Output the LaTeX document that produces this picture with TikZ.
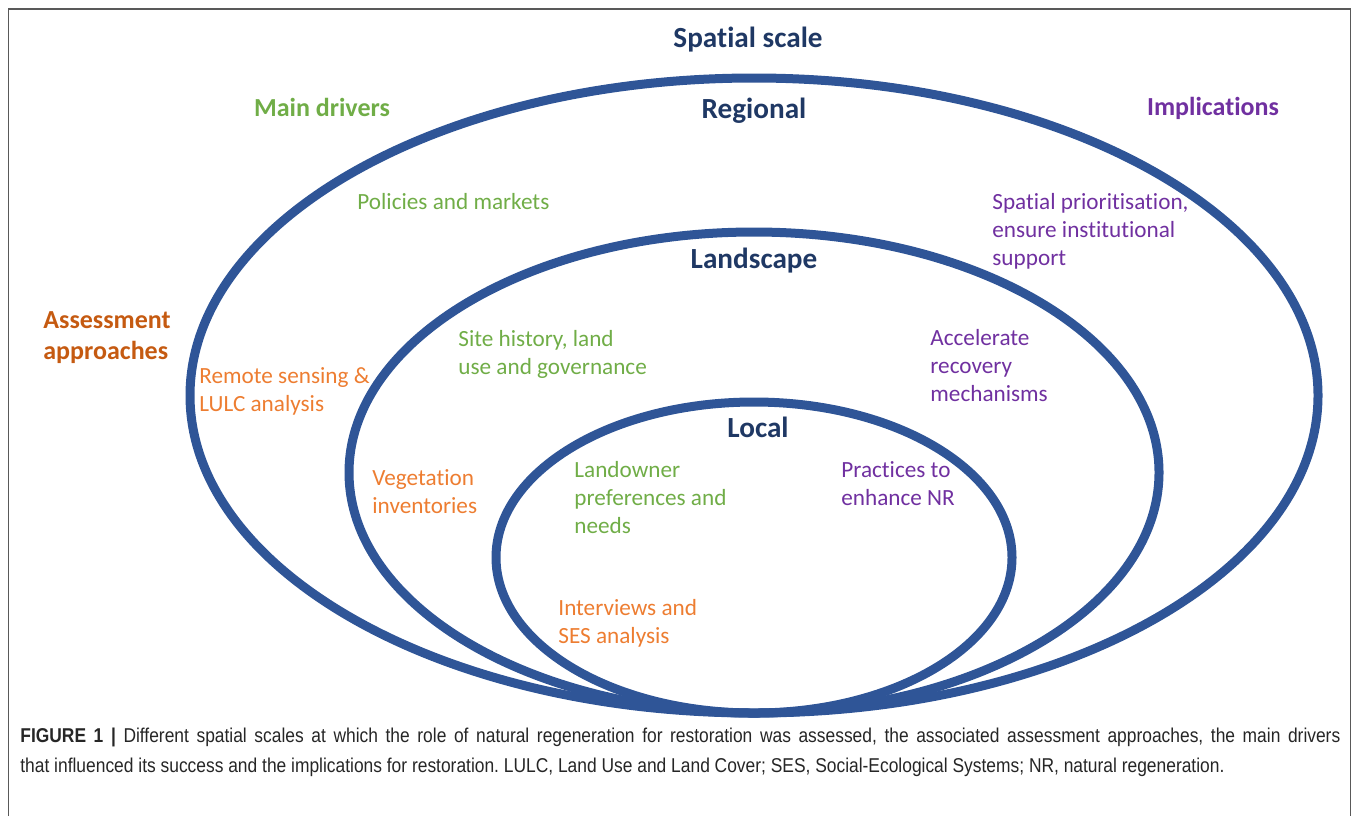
\documentclass[tikz,border=0pt]{standalone}
\usepackage{fontspec}
\setmainfont[Ligatures=NoCommon]{Carlito}
\newfontfamily\captionfont[FakeStretch=0.87]{Liberation Sans}
\usepackage{xcolor}
\usetikzlibrary{shapes.geometric,positioning}

\definecolor{ringblue}{HTML}{2F5597}
\definecolor{scalenavy}{HTML}{1F3864}
\definecolor{drivergreen}{HTML}{70AD47}
\definecolor{implpurple}{HTML}{7030A0}
\definecolor{assessorange}{HTML}{ED7D31}
\definecolor{assessbrown}{HTML}{C55A11}

\begin{document}
\begin{tikzpicture}[
        x=0.5pt, y=-0.5pt,
        ring/.style={draw=ringblue, line width=4.5pt, ellipse, inner sep=0pt, outer sep=0pt},
        scalename/.style={font=\fontsize{14.6}{17}\selectfont\bfseries, text=scalenavy, inner sep=0pt},
        heading/.style={font=\fontsize{13}{15.5}\selectfont\bfseries, align=left, inner sep=0pt},
        item/.style={font=\fontsize{11.6}{14}\selectfont, align=left, anchor=west, inner sep=0pt},
        driver/.style={item, text=drivergreen},
        implication/.style={item, text=implpurple},
        approach/.style={item, text=assessorange}
    ]
    \useasboundingbox (0,0) rectangle (1358,816);
    % frame round figure and caption
    \draw[black!65, line width=0.8pt] (8.5,816) -- (8.5,9) -- (1350.5,9) -- (1350.5,816);

    % nested spatial scales
    \node[ring, minimum width=564pt, minimum height=317.5pt] (regional) at (754,395.5) {};
    \node[ring, minimum width=405pt, minimum height=240.5pt] (landscape) at (754,472.5) {};
    \node[ring, minimum width=258pt, minimum height=155.5pt] (local) at (754,557.5) {};

    \node[scalename, above=12.7pt of regional.north, xshift=-3pt] (spatialscale) {Spatial scale};
    \node[scalename, below=9.7pt of regional.north] (regionaltitle) {Regional};
    \node[scalename, below=7.7pt of landscape.north] (landscapetitle) {Landscape};
    \node[scalename, below=7.2pt of local.north, xshift=2pt] (localtitle) {Local};

    % column headings
    \node[heading, text=drivergreen] (maindrivers) at (322,107) {Main drivers};
    \node[heading, text=implpurple] (implications) at (1213,108) {Implications};
    \node[heading, text=assessbrown, anchor=west] (assessment) at (43,337.5) {Assessment\\approaches};

    % main drivers
    \node[driver] (policies) at (357,202) {Policies and markets};
    \node[driver] (sitehistory) at (458,354) {Site history, land\\use and governance};
    \node[driver] (landowner) at (574,498) {Landowner\\preferences and\\needs};

    % implications
    \node[implication] (prioritisation) at (992,231) {Spatial prioritisation,\\ensure institutional\\support};
    \node[implication] (accelerate) at (930,366) {Accelerate\\recovery\\mechanisms};
    \node[implication] (practices) at (841,484) {Practices to\\enhance NR};

    % assessment approaches
    \node[approach] (remotesensing) at (199,391) {Remote sensing \&\\LULC analysis};
    \node[approach] (vegetation) at (372,492) {Vegetation\\inventories};
    \node[approach] (interviews) at (558,623) {Interviews and\\SES analysis};

    % caption
    \node[anchor=west, align=justify, text width=660pt, inner sep=0pt, text=black!85,
          font=\captionfont\fontsize{10}{15}\selectfont\frenchspacing] (caption) at (20,752)
        {\textbf{FIGURE 1 |} Different spatial scales at which the role of natural regeneration for restoration was assessed, the associated assessment approaches, the main drivers\linebreak
         that influenced its success and the implications for restoration. LULC, Land Use and Land Cover; SES, Social-Ecological Systems; NR, natural regeneration.};
\end{tikzpicture}
\end{document}
